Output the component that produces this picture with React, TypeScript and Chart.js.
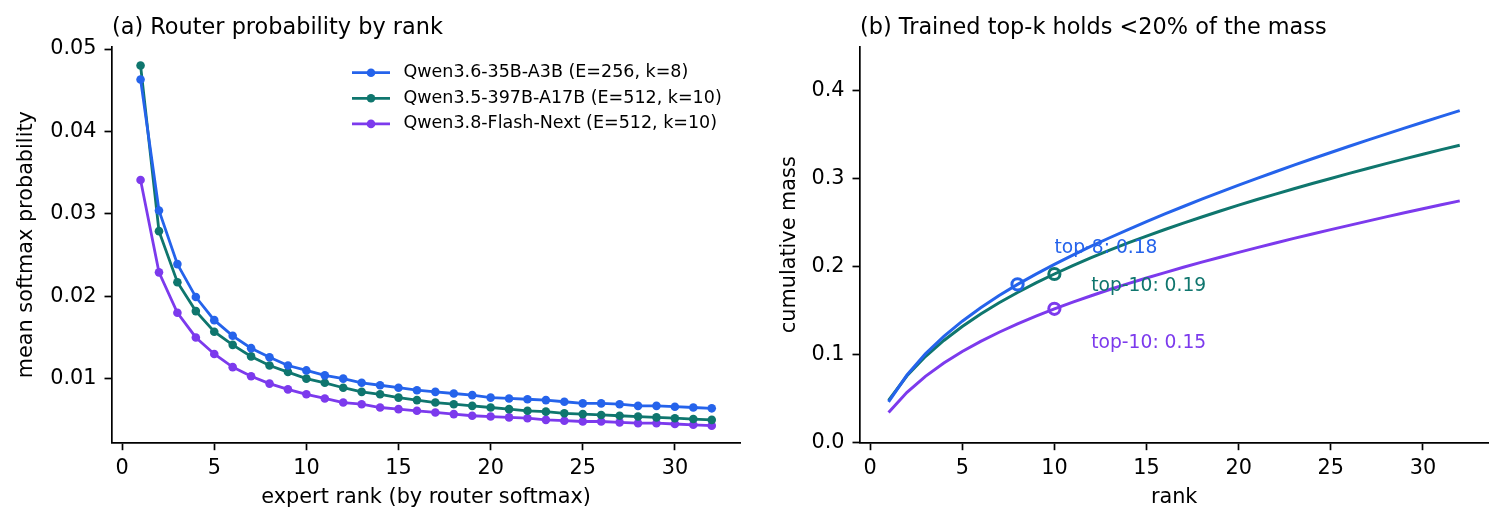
import React, { useEffect, useRef } from 'react';
import { Chart, registerables } from 'chart.js';

Chart.register(...registerables);

// ---------------- data ----------------
const RANKS = [1, 2, 3, 4, 5, 6, 7, 8, 9, 10, 11, 12, 13, 14, 15, 16, 17, 18, 19, 20, 21, 22, 23, 24, 25, 26, 27, 28, 29, 30, 31, 32];

const SERIES_NAMES = [
  'Qwen3.6-35B-A3B (E=256, k=8)',
  'Qwen3.5-397B-A17B (E=512, k=10)',
  'Qwen3.8-Flash-Next (E=512, k=10)',
];

// (a) mean softmax probability by rank
const PROB_QWEN36 = [0.0463, 0.0304, 0.0239, 0.0199, 0.0171, 0.0152, 0.0137, 0.0126, 0.0116, 0.0110, 0.0104, 0.0100, 0.0095, 0.0092, 0.0089, 0.0086, 0.0084, 0.0082, 0.0080, 0.0077, 0.0076, 0.0075, 0.0074, 0.0072, 0.0070, 0.0070, 0.0069, 0.0067, 0.0067, 0.0066, 0.0065, 0.0064];
const PROB_QWEN35 = [0.0480, 0.0279, 0.0217, 0.0182, 0.0157, 0.0141, 0.0127, 0.0116, 0.0108, 0.0100, 0.0095, 0.0089, 0.0084, 0.0081, 0.0077, 0.0074, 0.0071, 0.0069, 0.0067, 0.0065, 0.0063, 0.0061, 0.0060, 0.0058, 0.0057, 0.0056, 0.0055, 0.0054, 0.0053, 0.0052, 0.0051, 0.0050];
const PROB_QWEN38 = [0.0341, 0.0229, 0.0180, 0.0150, 0.0130, 0.0114, 0.0103, 0.0094, 0.0087, 0.0081, 0.0076, 0.0071, 0.0069, 0.0065, 0.0063, 0.0061, 0.0059, 0.0057, 0.0055, 0.0054, 0.0053, 0.0052, 0.0050, 0.0049, 0.0048, 0.0048, 0.0047, 0.0046, 0.0046, 0.0045, 0.0044, 0.0043];

// (b) cumulative mass by rank
const CUM_QWEN36 = [0.0464, 0.0769, 0.1009, 0.1209, 0.1381, 0.1534, 0.1672, 0.1799, 0.1916, 0.2027, 0.2132, 0.2233, 0.2329, 0.2422, 0.2512, 0.2599, 0.2684, 0.2767, 0.2848, 0.2926, 0.3003, 0.3079, 0.3154, 0.3227, 0.3298, 0.3369, 0.3439, 0.3507, 0.3575, 0.3642, 0.3708, 0.3773];
const CUM_QWEN35 = [0.0481, 0.0761, 0.0979, 0.1162, 0.1320, 0.1462, 0.1590, 0.1707, 0.1816, 0.1917, 0.2013, 0.2103, 0.2188, 0.2270, 0.2348, 0.2423, 0.2495, 0.2565, 0.2633, 0.2699, 0.2763, 0.2825, 0.2886, 0.2945, 0.3003, 0.3060, 0.3116, 0.3171, 0.3225, 0.3278, 0.3330, 0.3381];
const CUM_QWEN38 = [0.0342, 0.0572, 0.0754, 0.0905, 0.1036, 0.1151, 0.1255, 0.1351, 0.1439, 0.1521, 0.1598, 0.1670, 0.1741, 0.1807, 0.1871, 0.1933, 0.1993, 0.2052, 0.2108, 0.2163, 0.2217, 0.2270, 0.2322, 0.2372, 0.2421, 0.2470, 0.2518, 0.2566, 0.2613, 0.2659, 0.2704, 0.2748];

const TOPK_K = [8, 10, 10];
const ANNOT_TEXT = ['top-8: 0.18', 'top-10: 0.19', 'top-10: 0.15'];
const ANNOT_X = [10, 12, 12];
const ANNOT_Y = [0.2215, 0.178, 0.1136];

const X_TICKS = [0, 5, 10, 15, 20, 25, 30];
const LEFT_Y_TICKS = [0.01, 0.02, 0.03, 0.04, 0.05];
const RIGHT_Y_TICKS = [0.0, 0.1, 0.2, 0.3, 0.4];

const TITLE_A = '(a) Router probability by rank';
const TITLE_B = '(b) Trained top-k holds <20% of the mass';
const XLABEL_A = 'expert rank (by router softmax)';
const YLABEL_A = 'mean softmax probability';
const XLABEL_B = 'rank';
const YLABEL_B = 'cumulative mass';

// ---------------- style ----------------
const COLORS = ['#2563eb', '#0f766e', '#7c3aed'];
const FONT = 'DejaVu Sans';
const TICK_SIZE = 20.8;
const TITLE_SIZE = 22.4;
const LEGEND_SIZE = 17.5;
const ANNOT_SIZE = 18.7;
const X_MIN = -0.55;
const X_MAX = 33.55;

const pts = (ys: number[]) => RANKS.map((r, i) => ({ x: r, y: ys[i] }));

function xScale(title: string) {
  return {
    type: 'linear',
    position: 'bottom',
    min: X_MIN,
    max: X_MAX,
    afterBuildTicks: (s: any) => {
      s.ticks = X_TICKS.map((v) => ({ value: v }));
    },
    afterFit: (s: any) => {
      s.height = 85.3;
    },
    ticks: {
      font: { family: FONT, size: TICK_SIZE },
      color: '#000',
      padding: 5.5,
      maxRotation: 0,
      autoSkip: false,
      callback: (v: any) => String(v),
    },
    grid: {
      drawOnChartArea: false,
      drawTicks: true,
      tickLength: 7.5,
      tickWidth: 1.7,
      tickColor: '#000',
    },
    border: { display: true, color: '#000', width: 1.7 },
    title: {
      display: true,
      text: title,
      color: '#000',
      font: { family: FONT, size: TICK_SIZE },
      padding: { top: 0, bottom: 17.5 },
    },
  };
}

function yScale(title: string, min: number, max: number, ticks: number[], digits: number, width: number, titleOffset: number) {
  return {
    type: 'linear',
    position: 'left',
    min,
    max,
    afterBuildTicks: (s: any) => {
      s.ticks = ticks.map((v) => ({ value: v }));
    },
    afterFit: (s: any) => {
      s.width = width;
    },
    ticks: {
      font: { family: FONT, size: TICK_SIZE },
      color: '#000',
      padding: 8,
      autoSkip: false,
      callback: (v: any) => Number(v).toFixed(digits),
    },
    grid: {
      drawOnChartArea: false,
      drawTicks: true,
      tickLength: 7.5,
      tickWidth: 1.7,
      tickColor: '#000',
    },
    border: { display: true, color: '#000', width: 1.7 },
    title: {
      display: true,
      text: title,
      color: '#000',
      font: { family: FONT, size: TICK_SIZE },
      padding: { top: titleOffset, bottom: 0 },
    },
  };
}

function titlePlugin(text: string) {
  return {
    id: 'panelTitle',
    afterDraw(chart: any) {
      const { ctx, chartArea } = chart;
      ctx.save();
      ctx.font = `${TITLE_SIZE}px "${FONT}"`;
      ctx.fillStyle = '#000';
      ctx.textAlign = 'left';
      ctx.textBaseline = 'alphabetic';
      ctx.fillText(text, chartArea.left, chartArea.top - 12.7);
      ctx.restore();
    },
  };
}

const legendPlugin = {
  id: 'customLegend',
  afterDraw(chart: any) {
    const { ctx } = chart;
    const x0 = 352;
    const len = 38;
    const tx = 403.5;
    const y0 = 72.7;
    const dy = 25.6;
    ctx.save();
    chart.data.datasets.forEach((ds: any, i: number) => {
      const y = y0 + i * dy;
      ctx.strokeStyle = ds.borderColor;
      ctx.lineWidth = 2.8;
      ctx.beginPath();
      ctx.moveTo(x0, y);
      ctx.lineTo(x0 + len, y);
      ctx.stroke();
      ctx.fillStyle = ds.borderColor;
      ctx.beginPath();
      ctx.arc(x0 + len / 2, y, 4.3, 0, Math.PI * 2);
      ctx.fill();
      ctx.fillStyle = '#000';
      ctx.font = `${LEGEND_SIZE}px "${FONT}"`;
      ctx.textAlign = 'left';
      ctx.textBaseline = 'middle';
      ctx.fillText(ds.label, tx, y);
    });
    ctx.restore();
  },
};

const annotPlugin = {
  id: 'annotations',
  afterDraw(chart: any) {
    const { ctx, scales } = chart;
    ctx.save();
    ctx.font = `${ANNOT_SIZE}px "${FONT}"`;
    ctx.textAlign = 'left';
    ctx.textBaseline = 'middle';
    ANNOT_TEXT.forEach((t, i) => {
      ctx.fillStyle = COLORS[i];
      ctx.fillText(t, scales.x.getPixelForValue(ANNOT_X[i]), scales.y.getPixelForValue(ANNOT_Y[i]));
    });
    ctx.restore();
  },
};

export default function App() {
  const leftRef = useRef<HTMLCanvasElement | null>(null);
  const rightRef = useRef<HTMLCanvasElement | null>(null);

  useEffect(() => {
    const probs = [PROB_QWEN36, PROB_QWEN35, PROB_QWEN38];
    const cums = [CUM_QWEN36, CUM_QWEN35, CUM_QWEN38];

    const left = new Chart(leftRef.current as HTMLCanvasElement, {
      type: 'line',
      data: {
        datasets: probs.map((arr, i) => ({
          label: SERIES_NAMES[i],
          data: pts(arr),
          borderColor: COLORS[i],
          backgroundColor: COLORS[i],
          borderWidth: 2.8,
          pointRadius: 4.3,
          pointBorderWidth: 0,
          pointBackgroundColor: COLORS[i],
          fill: false,
          tension: 0,
        })),
      },
      options: {
        responsive: false,
        animation: false,
        events: [],
        layout: { padding: { top: 46.7, right: 9.7, bottom: 0, left: 0 } },
        plugins: { legend: { display: false }, title: { display: false }, tooltip: { enabled: false } },
        scales: {
          x: xScale(XLABEL_A),
          y: yScale(YLABEL_A, 0.00223, 0.05028, LEFT_Y_TICKS, 2, 112, 14.5),
        },
      } as any,
      plugins: [titlePlugin(TITLE_A), legendPlugin],
    });

    const curveSets = cums.map((arr, i) => ({
      label: SERIES_NAMES[i],
      data: pts(arr),
      borderColor: COLORS[i],
      backgroundColor: COLORS[i],
      borderWidth: 3,
      pointRadius: 0,
      fill: false,
      tension: 0,
      order: 2,
    }));
    const markerSets = TOPK_K.map((k, i) => ({
      label: 'top-k ' + i,
      data: [{ x: k, y: cums[i][k - 1] }],
      showLine: false,
      borderColor: COLORS[i],
      pointBorderColor: COLORS[i],
      pointBackgroundColor: 'rgba(255,255,255,0)',
      pointRadius: 5.6,
      pointBorderWidth: 3,
      order: 1,
    }));

    const right = new Chart(rightRef.current as HTMLCanvasElement, {
      type: 'line',
      data: { datasets: [...curveSets, ...markerSets] },
      options: {
        responsive: false,
        animation: false,
        events: [],
        layout: { padding: { top: 46.7, right: 14.7, bottom: 0, left: 0 } },
        plugins: { legend: { display: false }, title: { display: false }, tooltip: { enabled: false } },
        scales: {
          x: xScale(XLABEL_B),
          y: yScale(YLABEL_B, 0, 0.45, RIGHT_Y_TICKS, 1, 110, 27.5),
        },
      } as any,
      plugins: [titlePlugin(TITLE_B), annotPlugin],
    });

    return () => {
      left.destroy();
      right.destroy();
    };
  }, []);

  return (
    <div style={{ position: 'absolute', left: 0, top: 0, width: 1503, height: 528, background: '#fff' }}>
      <canvas
        ref={leftRef}
        width={750}
        height={528}
        style={{ position: 'absolute', left: 0, top: 0, width: 750, height: 528 }}
      />
      <canvas
        ref={rightRef}
        width={753}
        height={528}
        style={{ position: 'absolute', left: 750, top: 0, width: 753, height: 528 }}
      />
    </div>
  );
}
